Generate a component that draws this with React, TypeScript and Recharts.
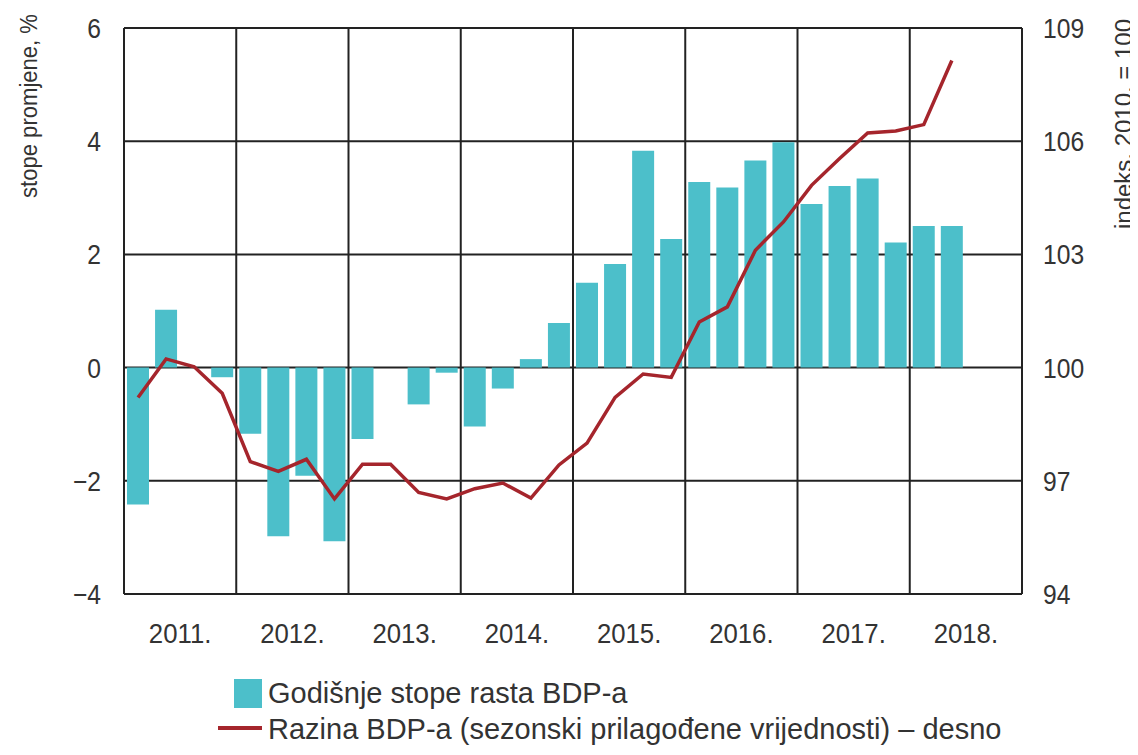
import React from 'react';
import { ComposedChart, Bar, Line, XAxis, YAxis, CartesianGrid, ReferenceLine } from 'recharts';

const quarters = [
  '2011 Q1', '2011 Q2', '2011 Q3', '2011 Q4',
  '2012 Q1', '2012 Q2', '2012 Q3', '2012 Q4',
  '2013 Q1', '2013 Q2', '2013 Q3', '2013 Q4',
  '2014 Q1', '2014 Q2', '2014 Q3', '2014 Q4',
  '2015 Q1', '2015 Q2', '2015 Q3', '2015 Q4',
  '2016 Q1', '2016 Q2', '2016 Q3', '2016 Q4',
  '2017 Q1', '2017 Q2', '2017 Q3', '2017 Q4',
  '2018 Q1', '2018 Q2',
];

const growthRates = [
  -2.42, 1.02, 0.0, -0.17,
  -1.17, -2.98, -1.91, -3.07,
  -1.26, 0.0, -0.65, -0.09,
  -1.04, -0.37, 0.15, 0.79,
  1.5, 1.83, 3.83, 2.27,
  3.28, 3.18, 3.66, 3.98,
  2.89, 3.21, 3.34, 2.21,
  2.5, 2.5,
];

const gdpLevel = [
  99.21, 100.23, 100.02, 99.32,
  97.51, 97.25, 97.57, 96.52,
  97.44, 97.44, 96.69, 96.52,
  96.79, 96.94, 96.54, 97.42,
  98.0, 99.21, 99.83, 99.74,
  101.21, 101.61, 103.11, 103.86,
  104.83, 105.54, 106.22, 106.27,
  106.44, 108.14,
];

const years = [2011, 2012, 2013, 2014, 2015, 2016, 2017, 2018];
const yearBoundaries = [2011, 2012, 2013, 2014, 2015, 2016, 2017, 2018, 2019];
const leftTicks = [-4, -2, 0, 2, 4, 6];
const rightTicks = [94, 97, 100, 103, 106, 109];

const barName = 'Godišnje stope rasta BDP-a';
const lineName = 'Razina BDP-a (sezonski prilagođene vrijednosti) – desno';
const leftTitle = 'stope promjene, %';
const rightTitle = 'indeks, 2010. = 100';

const data = quarters.map((q, i) => {
  const [y, qq] = q.split(' Q');
  return { t: Number(y) + (Number(qq) - 0.5) / 4, growth: growthRates[i], level: gdpLevel[i] };
});
const yearTicks = years.map((y) => y + 0.5);

const FONT = "'Liberation Sans', Arial, sans-serif";
const TEXT = '#333';
const GRID = '#222';
const TEAL = '#4cbfca';
const RED = '#a5252c';

const fmtMinus = (v: number) => (v < 0 ? `\u2212${Math.abs(v)}` : `${v}`);

const LeftTick = (props: any) => {
  const { x, y, payload } = props;
  return (
    <g transform={`translate(${x},${y})`}>
      <text textAnchor="end" dy="0.355em" transform="scale(0.88,1)" fontSize={28} fill={TEXT} fontFamily={FONT}>
        {fmtMinus(payload.value)}
      </text>
    </g>
  );
};

const RightTick = (props: any) => {
  const { x, y, payload } = props;
  return (
    <g transform={`translate(${x},${y})`}>
      <text textAnchor="start" dy="0.355em" transform="scale(0.88,1)" fontSize={28} fill={TEXT} fontFamily={FONT}>
        {payload.value}
      </text>
    </g>
  );
};

const YearTick = (props: any) => {
  const { x, y, payload } = props;
  return (
    <g transform={`translate(${x},${y})`}>
      <text textAnchor="middle" dy="0.71em" transform="scale(0.92,1)" fontSize={28} fill={TEXT} fontFamily={FONT}>
        {`${Math.floor(payload.value)}.`}
      </text>
    </g>
  );
};

const LeftTitle = (props: any) => {
  const vb = props.viewBox || { x: 60, y: 28 };
  const cx = vb.x - 31;
  const cy = vb.y + 78;
  return (
    <text x={cx} y={cy} transform={`rotate(-90 ${cx} ${cy})`} textAnchor="middle" dominantBaseline="central"
      fontSize={23} fill={TEXT} fontFamily={FONT} textLength={184} lengthAdjust="spacingAndGlyphs">{leftTitle}</text>
  );
};

const RightTitle = (props: any) => {
  const vb = props.viewBox || { x: 1022, y: 28 };
  const cx = vb.x + 102;
  const cy = vb.y + 96;
  return (
    <text x={cx} y={cy} transform={`rotate(-90 ${cx} ${cy})`} textAnchor="middle" dominantBaseline="central"
      fontSize={23} fill={TEXT} fontFamily={FONT} textLength={210} lengthAdjust="spacingAndGlyphs">{rightTitle}</text>
  );
};

const legendText: React.CSSProperties = {
  position: 'absolute',
  left: 268,
  fontSize: 29,
  lineHeight: '29px',
  color: TEXT,
  whiteSpace: 'nowrap',
  fontFamily: FONT,
};

export default function App() {
  return (
    <div style={{ position: 'relative', width: 1138, height: 755, margin: -8, background: '#fff', fontFamily: FONT, overflow: 'hidden' }}>
      <div style={{ position: 'absolute', left: 0, top: 0, width: 1132, height: 2, background: '#a0a0a0' }} />
      <ComposedChart width={1138} height={755} data={data} margin={{ top: 28, right: 36, bottom: 111, left: 60 }}>
        <CartesianGrid xAxisId="x" yAxisId="left" vertical={false} stroke={GRID} strokeWidth={2} strokeOpacity={1} />
        {yearBoundaries.map((b) => (
          <ReferenceLine key={b} xAxisId="x" yAxisId="left" x={b} stroke={GRID} strokeWidth={2} />
        ))}
        <XAxis
          xAxisId="x"
          type="number"
          dataKey="t"
          domain={[2011, 2019]}
          ticks={yearTicks}
          axisLine={false}
          tickLine={false}
          tickSize={0}
          tickMargin={29}
          height={50}
          allowDataOverflow
          interval={0}
          tick={YearTick}
        />
        <YAxis
          yAxisId="left"
          orientation="left"
          domain={[-4, 6]}
          ticks={leftTicks}
          axisLine={false}
          tickLine={false}
          tickSize={0}
          tickMargin={23}
          width={64}
          interval={0}
          tick={LeftTick}
          label={{ content: LeftTitle }}
        />
        <YAxis
          yAxisId="right"
          orientation="right"
          domain={[94, 109]}
          ticks={rightTicks}
          axisLine={false}
          tickLine={false}
          tickSize={0}
          tickMargin={21}
          width={80}
          interval={0}
          tick={RightTick}
          label={{ content: RightTitle }}
        />
        <Bar xAxisId="x" yAxisId="left" dataKey="growth" name={barName} fill={TEAL} barSize={22} isAnimationActive={false} />
        <Line xAxisId="x" yAxisId="right" type="linear" dataKey="level" name={lineName} stroke={RED} strokeWidth={3.5}
          dot={false} activeDot={false} isAnimationActive={false} />
      </ComposedChart>
      <div style={{ position: 'absolute', left: 234, top: 679, width: 28, height: 29, background: TEAL }} />
      <div style={{ ...legendText, top: 679 }}>{barName}</div>
      <div style={{ position: 'absolute', left: 218, top: 726, width: 44, height: 4, background: RED }} />
      <div style={{ ...legendText, top: 715 }}>{lineName}</div>
    </div>
  );
}
